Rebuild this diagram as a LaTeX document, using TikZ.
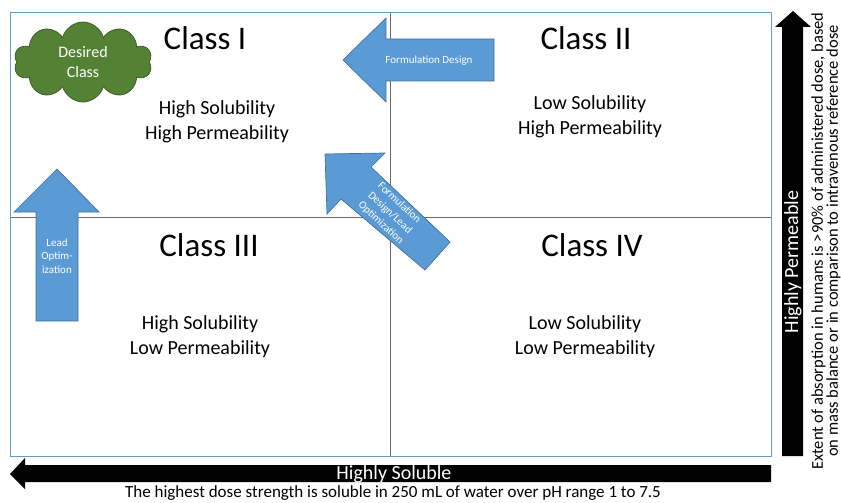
\documentclass[tikz,border=0pt]{standalone}
\usepackage{fontspec}
\setmainfont{Carlito}
\usepackage{xcolor}
\usetikzlibrary{shapes.symbols}
\definecolor{arrblue}{HTML}{5B9BD5}
\definecolor{arredge}{HTML}{41719C}
\definecolor{cloudgreen}{HTML}{548235}
\definecolor{cloudedge}{HTML}{3B5E26}
\definecolor{frameblue}{HTML}{6C9AC8}

\begin{document}
\begin{tikzpicture}[x=1pt,y=-1pt,
  classlbl/.style={anchor=base,font=\fontsize{33}{33}\selectfont},
  proplbl/.style={align=center,font=\fontsize{20}{25}\selectfont},
  bluearr/.style={fill=arrblue,draw=arredge,line width=0.7pt},
  arrtxt/.style={text=white,align=center,font=\fontsize{11}{13.5}\selectfont},
  bigtxt/.style={text=white,font=\fontsize{20}{20}\selectfont}]
\useasboundingbox (0,0) rectangle (841,503);
% quadrants
\draw[gray!85!black,line width=0.8pt] (390,12) -- (390,456) (10,217) -- (771,217);
\draw[frameblue,line width=0.9pt] (10,12) rectangle (771,456);
\foreach \n/\x/\y/\px/\py/\s/\p in {I/205/50/217/122/High/High, II/586/50/590/117/Low/High,
  III/209/256/200/337/High/Low, IV/592/256/585/337/Low/Low} {
  \node[classlbl] (class\n) at (\x,\y) {Class \n};
  \node[proplbl] (prop\n) at (\px,\py) {\s{} Solubility\\\p{} Permeability};
}
% cloud
\node[cloud,cloud puffs=10,aspect=1.7,fill=cloudgreen,draw=cloudedge,line width=0.8pt,
  minimum width=138pt,minimum height=80pt,text=white,align=center,
  font=\fontsize{16}{20}\selectfont] (desired) at (83,62) {Desired\\Class};
% blue arrows
\draw[bluearr] (36,321) -- (36,212) -- (14,212) -- (57,169) -- (99,212) -- (78,212) -- (78,321) -- cycle;
\node[arrtxt] (lead) at (57,256) {Lead\\Optim-\\ization};
\draw[bluearr] (494,39) -- (386,39) -- (386,18) -- (343,60) -- (386,102) -- (386,81) -- (494,81) -- cycle;
\node[arrtxt] (formdes) at (429,61) {Formulation Design};
\draw[bluearr] (325,154) -- (385,153) -- (371,167) -- (450,242) -- (425,270) -- (341,199) -- (327,214) -- cycle;
\node[arrtxt,rotate=-43] (formlead) at (390,213) {Formulation\\Design/Lead\\Optimization};
% black axes
\fill (771,465) -- (25,465) -- (25,458) -- (10,474) -- (25,489) -- (25,482) -- (771,482) -- cycle;
\node[bigtxt] (sol) at (394,474) {Highly Soluble};
\node[font=\fontsize{17}{17}\selectfont] (solnote) at (393,493)
  {The highest dose strength is soluble in 250 mL of water over pH range 1 to 7.5};
\fill (782,456) -- (782,27) -- (775,27) -- (793,11) -- (811,27) -- (803,27) -- (803,456) -- cycle;
\node[bigtxt,rotate=90] (perm) at (793,262) {Highly Permeable};
\node[rotate=90,align=center,font=\fontsize{16.5}{14}\selectfont] (permnote) at (826,241)
  {Extent of absorption in humans is >90\% of administered dose, based\\on mass balance or in comparison to intravenous reference dose};
\end{tikzpicture}
\end{document}
